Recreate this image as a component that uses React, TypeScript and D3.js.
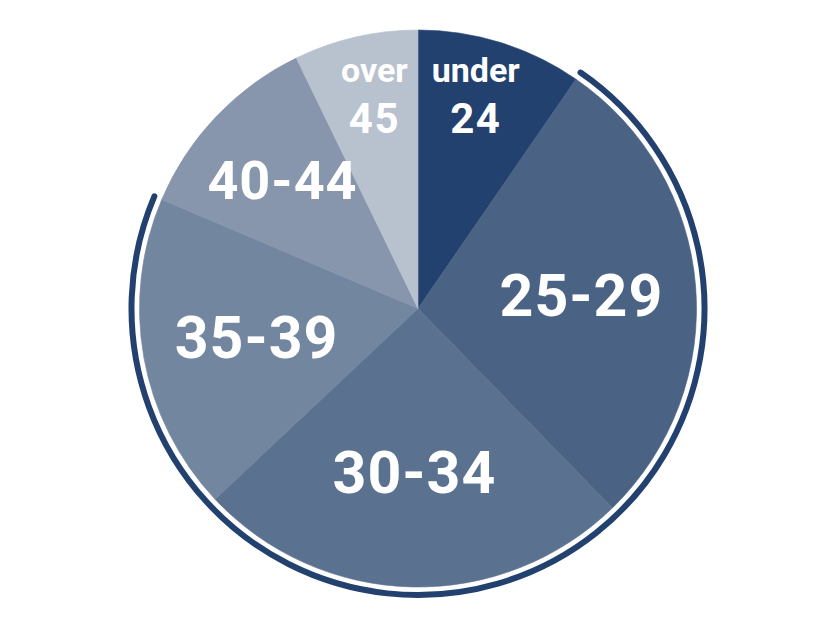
import React from "react";
import * as d3 from "d3";

// age groups, clockwise from 12 o'clock
const groups = ["under 24", "25-29", "30-34", "35-39", "40-44", "over 45"];
const shares = [9.6, 28.1, 25.3, 18.4, 11.4, 7.2];
const colors = ["#23416f", "#4a6283", "#5b7190", "#73869f", "#8796ac", "#b8c1ce"];
// the outline arc wraps these groups
const highlighted = ["25-29", "30-34", "35-39"];

const W = 831;
const H = 630;
const cx = 418;
const cy = 308.5;
const R = 278.5;
const ringR = 286.5;

const App = () => {
  const pie = d3
    .pie<number>()
    .sort(null)
    .value((d) => d);
  const slices = pie(shares);

  const arc = d3
    .arc<d3.PieArcDatum<number>>()
    .innerRadius(0)
    .outerRadius(R);

  // small slices near the top get their label pushed further out
  const labelR = (d: d3.PieArcDatum<number>) => {
    const span = d.endAngle - d.startAngle;
    if (span < 0.65) return 216;
    if (span < 0.8) return 187;
    return 164;
  };

  const hi = slices.filter((_, i) => highlighted.includes(groups[i]));
  const a0 = d3.min(hi, (d) => d.startAngle) as number;
  const a1 = d3.max(hi, (d) => d.endAngle) as number;
  const ring = d3.path();
  ring.arc(0, 0, ringR, a0 - Math.PI / 2, a1 - Math.PI / 2);

  return (
    <svg
      width={W}
      height={H}
      style={{ position: "absolute", left: 0, top: 0, background: "#fff" }}
    >
      <g transform={`translate(${cx},${cy})`}>
        {slices.map((d, i) => (
          <path
            key={groups[i]}
            d={arc(d) || ""}
            fill={colors[i]}
            stroke={colors[i]}
            strokeWidth={0.6}
          />
        ))}
        <path
          d={ring.toString()}
          fill="none"
          stroke="#23416f"
          strokeWidth={6}
          strokeLinecap="round"
        />
        {slices.map((d, i) => {
          const mid = (d.startAngle + d.endAngle) / 2;
          const r = labelR(d);
          const x = Math.sin(mid) * r;
          const y = -Math.cos(mid) * r;
          const parts = groups[i].split(" ");
          const common = {
            fill: "#fff",
            fontFamily: "Roboto, 'Open Sans', sans-serif",
            fontWeight: 700,
            textAnchor: "middle" as const,
          };
          if (parts.length === 2) {
            // two-line labels at the top share one baseline row
            const tx = x * 0.9;
            const ty = -R * 0.76;
            return (
              <g key={groups[i]}>
                <text {...common} x={tx} y={ty - 15} fontSize={34}>
                  {parts[0]}
                </text>
                <text {...common} x={tx} y={ty + 36} fontSize={42} letterSpacing={1.5}>
                  {parts[1]}
                </text>
              </g>
            );
          }
          const fs = d.endAngle - d.startAngle < 0.8 ? 54 : 59;
          return (
            <text
              key={groups[i]}
              {...common}
              x={x}
              y={y + fs * 0.355}
              fontSize={fs}
              letterSpacing={1}
            >
              {groups[i]}
            </text>
          );
        })}
      </g>
    </svg>
  );
};

export default App;
